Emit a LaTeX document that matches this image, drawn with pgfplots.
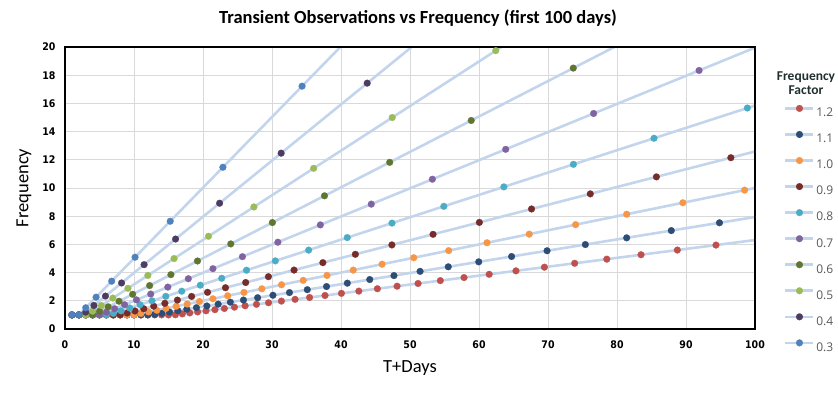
\documentclass[border=0pt]{standalone}
\usepackage{fontspec}
\setmainfont{Carlito}
\newfontfamily\tickfont{DejaVu Sans Condensed}
\newfontfamily\legfont{Open Sans}
\usepackage{pgfplots}
\pgfplotsset{compat=1.18}
\definecolor{linec}{RGB}{195,213,236}
\definecolor{gridc}{RGB}{217,217,217}
\definecolor{cA}{HTML}{C0504D}
\definecolor{cB}{HTML}{2C4D75}
\definecolor{cC}{HTML}{F79646}
\definecolor{cD}{HTML}{772C2A}
\definecolor{cE}{HTML}{4BACC6}
\definecolor{cF}{HTML}{8064A2}
\definecolor{cG}{HTML}{5F7530}
\definecolor{cH}{HTML}{9BBB59}
\definecolor{cI}{HTML}{4D3B62}
\definecolor{cJ}{HTML}{4F81BD}
\definecolor{legtext}{HTML}{595959}
\definecolor{legtitle}{HTML}{1F2F2F}
\pgfplotsset{ser/.style={color=linec, line width=2.6pt, mark=*, mark size=3.4pt, mark options={draw=#1, fill=#1, line width=0.2pt, solid}}}
\begin{document}
\begin{tikzpicture}[x=1pt,y=1pt]
\useasboundingbox (-65,-63) rectangle (773,329);
\begin{axis}[
  at={(0,0)}, anchor=south west,
  width=690pt, height=282pt, scale only axis,
  xmin=0, xmax=100, ymin=0, ymax=20,
  xtick={0,10,...,100}, ytick={0,2,...,20},
  grid=major, major grid style={color=gridc, line width=0.9pt},
  major tick length=0pt,
  axis line style={black, line width=2pt},
  tick label style={font=\tickfont\bfseries\fontsize{10.5}{12}\selectfont},
  /pgf/number format/assume math mode=true,
  xticklabel style={yshift=-8pt},
  yticklabel style={xshift=-6pt},
  legend style={at={(axis description cs:1.042,0.795)}, anchor=north west, draw=none, fill=none, inner sep=0pt,
    font=\legfont\fontsize{12}{13}\selectfont, text=legtext, row sep=14.3pt,
    nodes={inner sep=0pt, text height=8.3pt, text depth=0pt}},
  legend cell align=left,
  /tikz/every odd column/.append style={column sep=1.5pt},
  legend image code/.code={\draw[mark repeat=2,mark phase=2,yshift=4.2pt,#1] plot coordinates {(0pt,0pt) (14pt,0pt) (28pt,0pt)};},
]
\addplot[color=linec, line width=2.6pt, forget plot] coordinates {(94.344,5.953)(100.297,6.328)};
\addplot[ser=cA] coordinates {(1,1)(2,1)(3,1)(4,1)(5,1)(6,1)(7,1)(8,1)(9,1)(10,1)(11,1)(12,1)(13,1)(14,1)(15,1)(16,1.010)(17.010,1.073)(18.083,1.141)(19.224,1.213)(20.437,1.289)(21.726,1.371)(23.097,1.457)(24.554,1.549)(26.103,1.647)(27.750,1.751)(29.501,1.861)(31.363,1.979)(33.341,2.104)(35.445,2.236)(37.682,2.378)(40.059,2.528)(42.587,2.687)(45.274,2.857)(48.130,3.037)(51.167,3.228)(54.396,3.432)(57.828,3.649)(61.476,3.879)(65.355,4.124)(69.479,4.384)(73.863,4.660)(78.523,4.954)(83.477,5.267)(88.744,5.599)(94.344,5.953)};
\addlegendentry{1.2}
\addplot[ser=cB] coordinates {(1,1)(2,1)(3,1)(4,1)(5,1)(6,1)(7,1)(8,1)(9,1)(10,1)(11,1)(12,1)(13,1.033)(14.033,1.115)(15.147,1.203)(16.351,1.299)(17.649,1.402)(19.051,1.513)(20.565,1.634)(22.198,1.763)(23.961,1.903)(25.865,2.054)(27.919,2.218)(30.137,2.394)(32.531,2.584)(35.115,2.789)(37.904,3.011)(40.915,3.250)(44.165,3.508)(47.673,3.787)(51.460,4.088)(55.547,4.412)(59.959,4.763)(64.722,5.141)(69.863,5.549)(75.413,5.990)(81.403,6.466)(87.869,6.980)(94.849,7.534)(102.383,8.133)};
\addlegendentry{1.1}
\addplot[ser=cC] coordinates {(1,1)(2,1)(3,1)(4,1)(5,1)(6,1)(7,1)(8,1)(9,1)(10,1)(11,1.1)(12.1,1.21)(13.31,1.331)(14.641,1.464)(16.105,1.611)(17.716,1.772)(19.487,1.949)(21.436,2.144)(23.579,2.358)(25.937,2.594)(28.531,2.853)(31.384,3.138)(34.523,3.452)(37.975,3.797)(41.772,4.177)(45.950,4.595)(50.545,5.054)(55.599,5.560)(61.159,6.116)(67.275,6.727)(74.002,7.400)(81.403,8.140)(89.543,8.954)(98.497,9.850)(108.347,10.835)};
\addlegendentry{1.0}
\addplot[ser=cD] coordinates {(1,1)(2,1)(3,1)(4,1)(5,1)(6,1)(7,1)(8,1.007)(9.007,1.134)(10.141,1.277)(11.418,1.437)(12.855,1.618)(14.474,1.822)(16.296,2.051)(18.347,2.310)(20.657,2.601)(23.258,2.928)(26.186,3.297)(29.482,3.712)(33.194,4.179)(37.373,4.705)(42.078,5.297)(47.375,5.964)(53.339,6.715)(60.054,7.560)(67.615,8.512)(76.127,9.584)(85.710,10.790)(96.501,12.149)(108.650,13.678)};
\addlegendentry{0.9}
\addplot[ser=cE] coordinates {(1,1)(2,1)(3,1)(4,1)(5,1)(6,1)(7,1.109)(8.109,1.285)(9.395,1.489)(10.884,1.725)(12.609,1.998)(14.607,2.315)(16.922,2.682)(19.604,3.107)(22.711,3.599)(26.310,4.170)(30.480,4.831)(35.311,5.596)(40.908,6.483)(47.391,7.511)(54.902,8.701)(63.603,10.080)(73.684,11.678)(85.362,13.529)(98.890,15.673)(114.563,18.157)};
\addlegendentry{0.8}
\addplot[ser=cF] coordinates {(1,1)(2,1)(3,1)(4,1)(5,1)(6,1.197)(7.197,1.436)(8.633,1.723)(10.356,2.066)(12.422,2.479)(14.901,2.973)(17.874,3.566)(21.440,4.278)(25.718,5.131)(30.849,6.155)(37.004,7.383)(44.387,8.856)(53.244,10.623)(63.867,12.743)(76.610,15.286)(91.896,18.336)(110.232,21.994)};
\addlegendentry{0.7}
\addplot[ser=cG] coordinates {(1,1)(2,1)(3,1)(4,1.005)(5.005,1.257)(6.262,1.573)(7.835,1.968)(9.803,2.462)(12.265,3.081)(15.346,3.855)(19.201,4.823)(24.024,6.035)(30.059,7.550)(37.609,9.447)(47.056,11.820)(58.876,14.789)(73.665,18.504)(92.168,23.152)};
\addlegendentry{0.6}
\addplot[ser=cH] coordinates {(1,1)(2,1)(3,1)(4,1.265)(5.265,1.665)(6.930,2.191)(9.121,2.884)(12.006,3.797)(15.802,4.997)(20.799,6.577)(27.376,8.657)(36.034,11.395)(47.428,14.998)(62.426,19.741)(82.167,25.984)};
\addlegendentry{0.5}
\addplot[ser=cI] coordinates {(1,1)(2,1)(3,1.194)(4.194,1.670)(5.864,2.335)(8.199,3.264)(11.463,4.563)(16.026,6.380)(22.406,8.920)(31.326,12.471)(43.797,17.436)(61.233,24.377)};
\addlegendentry{0.4}
\addplot[ser=cJ] coordinates {(1,1)(2,1.002)(3.002,1.505)(4.507,2.259)(6.766,3.391)(10.157,5.091)(15.248,7.642)(22.890,11.472)(34.362,17.222)(51.584,25.854)};
\addlegendentry{0.3}
\draw[black, line width=2pt] (rel axis cs:0,0) rectangle (rel axis cs:1,1);
\end{axis}
\node[font=\bfseries\fontsize{18.5}{20}\selectfont] at (353,311) {Transient Observations vs Frequency (first 100 days)};
\node[rotate=90, font=\fontsize{18.5}{20}\selectfont] at (-41,141) {Frequency};
\node[font=\fontsize{18.5}{20}\selectfont] at (345,-39) {T+Days};
\node[font=\bfseries\fontsize{13.5}{15.5}\selectfont, text=legtitle, align=center] at (741,246) {Frequency\\[-2pt]Factor};
\end{tikzpicture}
\end{document}
